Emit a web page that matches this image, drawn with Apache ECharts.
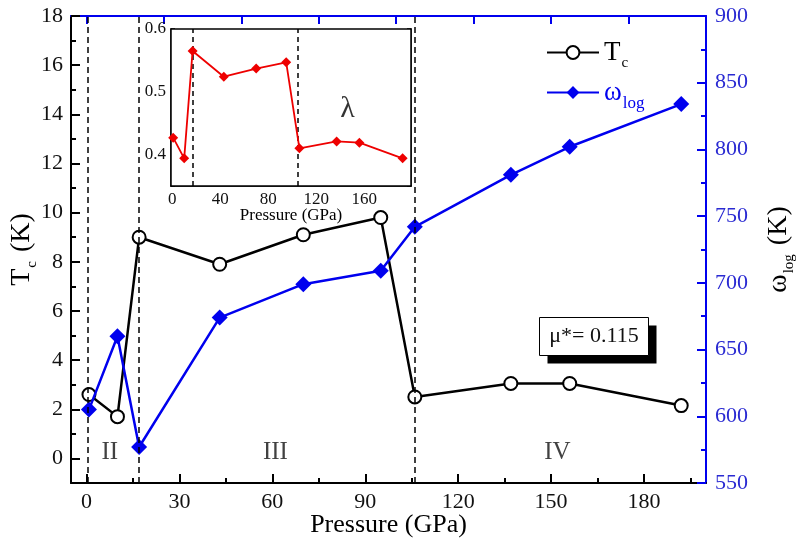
<!DOCTYPE html>
<html>
<head>
<meta charset="utf-8">
<script src="https://cdn.jsdelivr.net/npm/echarts@6/dist/echarts.min.js"></script>
<style>html,body{margin:0;padding:0;background:#fff}#c{width:796px;height:549px}</style>
</head>
<body>
<div id="c"></div>
<script>
// ---- data ----
var pressure = [0.8, 10, 17, 43, 70, 95, 106, 137, 156, 192];
var tcValues = [2.6, 1.7, 9.0, 7.9, 9.1, 9.8, 2.5, 3.05, 3.05, 2.15];
var wlogValues = [605, 660, 577, 674, 699, 709, 742, 781, 802, 834];
var lambdaValues = [0.427, 0.394, 0.565, 0.524, 0.537, 0.547, 0.410, 0.421, 0.419, 0.394];
var phaseBoundaries = [0.4, 17, 106];
var insetBoundaries = [17, 105];
var regionLabels = [['II', 7.5, 0.25], ['III', 61, 0.25], ['IV', 152, 0.25]];
var xMajorTicks = [0, 30, 60, 90, 120, 150, 180];
var xMinorTicks = [15, 45, 75, 105, 135, 165, 195];
var xTopTicks = [0, 25, 50, 75, 100, 125, 150, 175, 200];
var yLeftMajor = [0, 2, 4, 6, 8, 10, 12, 14, 16, 18];
var yLeftMinor = [-1, 1, 3, 5, 7, 9, 11, 13, 15, 17];
var yRightMinor = [575, 625, 675, 725, 775, 825, 875];
var insetXMajor = [0, 40, 80, 120, 160];
var insetXMinor = [20, 60, 100, 140, 180];
var insetYLabels = [0.4, 0.5, 0.6];

var SERIF = "'Liberation Serif', 'DejaVu Serif', serif";
var BLUE = '#0000ee';
var BLUE_TXT = '#2a2ad2';

function zip(a, b) { return a.map(function (v, i) { return [v, b[i]]; }); }

var chart = echarts.init(document.getElementById('c'));
var option = {
  animation: false,
  backgroundColor: '#fff',
  grid: [
    { left: 71, top: 16, width: 635, height: 467, outerBoundsMode: 'none', containLabel: false },
    { left: 171, top: 29, width: 240, height: 157, outerBoundsMode: 'none', containLabel: false,
      show: true, backgroundColor: '#fff', borderColor: '#000', borderWidth: 1.5, z: 5 }
  ],
  legend: {
    data: ['Tc', 'wlog'],
    orient: 'vertical',
    left: 541, top: 34,
    itemWidth: 52, itemHeight: 16, itemGap: 8, itemTextGap: 7,
    selectedMode: false,
    formatter: function (n) { return n === 'Tc' ? '{t|T}{c|c}' : '{w|ω}{l|log}'; },
    textStyle: {
      fontFamily: SERIF,
      rich: {
        t: { fontFamily: SERIF, fontSize: 27, color: '#000' },
        c: { fontFamily: SERIF, fontSize: 15, color: '#000', padding: [22, 0, 0, 1] },
        w: { fontFamily: SERIF, fontSize: 27, color: BLUE },
        l: { fontFamily: SERIF, fontSize: 17, color: BLUE, padding: [22, 0, 0, 1] }
      }
    }
  },
  xAxis: [
    { gridIndex: 0, type: 'value', min: -5, max: 200, position: 'bottom',
      name: 'Pressure (GPa)', nameLocation: 'middle', nameGap: 29, nameMoveOverlap: false,
      nameTextStyle: { fontFamily: SERIF, fontSize: 26, color: '#000' },
      axisLine: { onZero: false, lineStyle: { color: '#000', width: 2 } },
      axisTick: { inside: true, length: 9, customValues: xMajorTicks, lineStyle: { width: 2 } },
      axisLabel: { customValues: xMajorTicks, fontFamily: SERIF, fontSize: 22, color: '#111', margin: 8 },
      splitLine: { show: false } },
    { gridIndex: 0, type: 'value', min: -5, max: 200, position: 'bottom',
      axisLine: { show: false, onZero: false },
      axisTick: { inside: true, length: 5, customValues: xMinorTicks, lineStyle: { color: '#000', width: 2 } },
      axisLabel: { show: false }, splitLine: { show: false } },
    { gridIndex: 0, type: 'value', min: -5, max: 200, position: 'top',
      axisLine: { onZero: false, lineStyle: { color: BLUE, width: 2 } },
      axisTick: { inside: true, length: 8, customValues: xTopTicks, lineStyle: { color: BLUE, width: 2 } },
      axisLabel: { show: false }, splitLine: { show: false } },
    { gridIndex: 1, type: 'value', min: -1, max: 199, position: 'bottom',
      name: 'Pressure (GPa)', nameLocation: 'middle', nameGap: 21, nameMoveOverlap: false,
      nameTextStyle: { fontFamily: SERIF, fontSize: 17, color: '#000' },
      axisLine: { onZero: false, lineStyle: { color: '#000', width: 1.5 } },
      axisTick: { inside: true, length: 5, customValues: insetXMajor, lineStyle: { width: 1.5 } },
      axisLabel: { customValues: insetXMajor, fontFamily: SERIF, fontSize: 17, color: '#111', margin: 5 },
      splitLine: { show: false } },
    { gridIndex: 1, type: 'value', min: -1, max: 199, position: 'bottom',
      axisLine: { show: false, onZero: false },
      axisTick: { inside: true, length: 3, customValues: insetXMinor, lineStyle: { color: '#000', width: 1.5 } },
      axisLabel: { show: false }, splitLine: { show: false } }
  ],
  yAxis: [
    { gridIndex: 0, type: 'value', min: -1, max: 18, position: 'left',
      name: '{t|T}{c|c}{t| (K)}', nameLocation: 'middle', nameGap: 31, nameRotate: 90, nameMoveOverlap: false,
      nameTextStyle: { rich: {
        t: { fontFamily: SERIF, fontSize: 28, color: '#000' },
        c: { fontFamily: SERIF, fontSize: 15, color: '#000', padding: [22, 2, 0, 1] } } },
      axisLine: { onZero: false, lineStyle: { color: '#000', width: 2 } },
      axisTick: { inside: true, length: 9, customValues: yLeftMajor, lineStyle: { width: 2 } },
      axisLabel: { customValues: yLeftMajor, fontFamily: SERIF, fontSize: 22, color: '#111', margin: 8 },
      splitLine: { show: false } },
    { gridIndex: 0, type: 'value', min: -1, max: 18, position: 'left',
      axisLine: { show: false, onZero: false },
      axisTick: { inside: true, length: 5, customValues: yLeftMinor, lineStyle: { color: '#000', width: 2 } },
      axisLabel: { show: false }, splitLine: { show: false } },
    { gridIndex: 0, type: 'value', min: 550, max: 900, interval: 50, position: 'right',
      name: '{w|ω}{l|log}{w| (K)}', nameLocation: 'middle', nameGap: 54, nameRotate: 90, nameMoveOverlap: false,
      nameTextStyle: { rich: {
        w: { fontFamily: SERIF, fontSize: 28, color: '#000' },
        l: { fontFamily: SERIF, fontSize: 15, color: '#000', padding: [22, 2, 0, 1] } } },
      axisLine: { onZero: false, lineStyle: { color: BLUE, width: 2 } },
      axisTick: { inside: true, length: 9, lineStyle: { color: BLUE, width: 2 } },
      axisLabel: { fontFamily: SERIF, fontSize: 22, color: BLUE_TXT, margin: 9 },
      splitLine: { show: false } },
    { gridIndex: 0, type: 'value', min: 550, max: 900, position: 'right',
      axisLine: { show: false, onZero: false },
      axisTick: { inside: true, length: 5, customValues: yRightMinor, lineStyle: { color: BLUE, width: 2 } },
      axisLabel: { show: false }, splitLine: { show: false } },
    { gridIndex: 1, type: 'value', min: 0.35, max: 0.6, interval: 0.05, position: 'left',
      axisLine: { onZero: false, lineStyle: { color: '#000', width: 1.5 } },
      axisTick: { inside: true, length: 4, lineStyle: { width: 1.5 } },
      axisLabel: { customValues: insetYLabels, fontFamily: SERIF, fontSize: 17, color: '#111', margin: 5 },
      splitLine: { show: false } },
    { gridIndex: 1, type: 'value', min: 0.35, max: 0.6, interval: 0.05, position: 'right',
      axisLine: { onZero: false, lineStyle: { color: '#000', width: 1.5 } },
      axisTick: { inside: true, length: 4, lineStyle: { color: '#000', width: 1.5 } },
      axisLabel: { show: false }, splitLine: { show: false } }
  ],
  graphic: [{
    type: 'group', left: 539, top: 317, z: 20,
    children: [
      { type: 'rect', shape: { x: 8, y: 8, width: 109, height: 38 }, style: { fill: '#000' } },
      { type: 'rect', shape: { x: 0, y: 0, width: 109, height: 38 }, style: { fill: '#fff', stroke: '#000', lineWidth: 1 } },
      { type: 'text', x: 54.5, y: 19, style: { text: 'μ*= 0.115', font: '22px ' + SERIF, fill: '#111', align: 'center', verticalAlign: 'middle' } }
    ]
  }],
  series: [
    { name: 'Tc', type: 'line', xAxisIndex: 0, yAxisIndex: 0, data: zip(pressure, tcValues),
      symbol: 'emptyCircle', symbolSize: 13, z: 3,
      lineStyle: { color: '#000', width: 2.5 }, itemStyle: { color: '#000', borderWidth: 1.3 },
      markLine: { silent: true, symbol: ['none', 'none'], label: { show: false },
        lineStyle: { color: '#000', type: [6, 4], width: 1.5 },
        data: phaseBoundaries.map(function (p) { return { xAxis: p }; }) } },
    { name: 'wlog', type: 'line', xAxisIndex: 0, yAxisIndex: 2, data: zip(pressure, wlogValues),
      symbol: 'diamond', symbolSize: 16, z: 4,
      lineStyle: { color: BLUE, width: 2.5 }, itemStyle: { color: BLUE } },
    { name: 'regions', type: 'scatter', xAxisIndex: 0, yAxisIndex: 0,
      data: regionLabels.map(function (r) { return { value: [r[1], r[2]], name: r[0] }; }),
      symbolSize: 1, itemStyle: { color: 'rgba(0,0,0,0)' }, silent: true,
      label: { show: true, position: 'inside', formatter: '{b}', fontFamily: SERIF, fontSize: 25, color: '#111' } },
    { name: 'lambda', type: 'line', xAxisIndex: 3, yAxisIndex: 4, data: zip(pressure, lambdaValues),
      symbol: 'diamond', symbolSize: 10, z: 6,
      lineStyle: { color: '#ee0000', width: 1.8 }, itemStyle: { color: '#ee0000' },
      markLine: { silent: true, symbol: ['none', 'none'], label: { show: false },
        lineStyle: { color: '#000', type: [5, 4], width: 1.5 },
        data: insetBoundaries.map(function (p) { return { xAxis: p }; }) } },
    { name: 'lambdaLabel', type: 'scatter', xAxisIndex: 3, yAxisIndex: 4,
      data: [{ value: [146, 0.473], name: 'λ' }], symbolSize: 1, z: 6,
      itemStyle: { color: 'rgba(0,0,0,0)' }, silent: true,
      label: { show: true, position: 'inside', formatter: '{b}', fontFamily: SERIF, fontSize: 30, color: '#000' } }
  ]
};
chart.setOption(option);
</script>
</body>
</html>
